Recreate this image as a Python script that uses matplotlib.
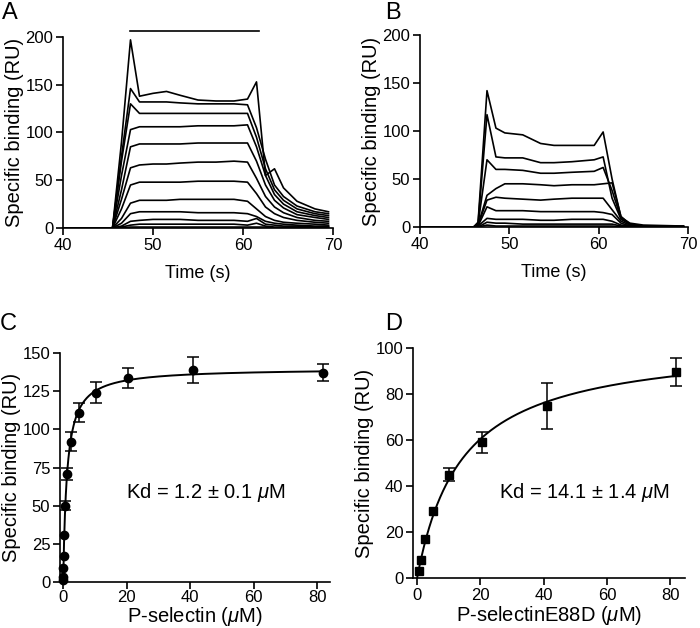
import numpy as np
import matplotlib
matplotlib.use("Agg")
import matplotlib.pyplot as plt

plt.rcParams['font.family'] = ['Liberation Sans', 'DejaVu Sans']
plt.rcParams['mathtext.fontset'] = 'custom'
plt.rcParams['mathtext.rm'] = 'Liberation Sans'
plt.rcParams['mathtext.it'] = 'Liberation Sans:italic'

# ---------------- Panel A: sensorgrams P-selectin ----------------
tA = [40, 45.5, 46.5, 47.5, 48.5, 50, 51.5, 53, 55, 57, 59, 60.5, 61.5, 62.5, 63.5, 64.5, 66, 68, 69.5]
a1 = [0, 0, 90, 197, 138, 141, 143, 139, 134, 133, 133, 135, 153, 55, 62, 42, 28, 20, 17]
a2 = [0, 0, 75, 146, 132, 132, 132, 131, 130, 130, 130, 129, 105, 72, 45, 33, 23, 17, 15]
a3 = [0, 0, 70, 130, 120, 120, 120, 120, 120, 120, 120, 120, 95, 62, 40, 29, 20, 15, 13]
a4 = [0, 0, 55, 103, 106, 106, 106, 106, 107, 107, 107, 108, 85, 55, 35, 25, 17, 13, 11]
a5 = [0, 0, 40, 85, 88, 88, 88, 88, 89, 89, 89, 89, 70, 45, 29, 21, 14, 11, 9]
a6 = [0, 0, 30, 63, 66, 67, 67, 68, 69, 69, 70, 69, 52, 33, 22, 16, 11, 8, 7]
a7 = [0, 0, 20, 45, 48, 48, 48, 48, 49, 49, 49, 48, 36, 22, 15, 11, 8, 6, 5]
a8 = [0, 0, 10, 26, 29, 29, 29, 30, 30, 30, 30, 28, 20, 12, 8, 6, 5, 4, 3]
a9 = [0, 0, 5, 15, 17, 17, 17, 17, 16, 16, 16, 15, 12, 7, 5, 4, 3, 2, 2]
a10 = [0, 0, 2, 7, 8, 9, 9, 9, 8, 8, 8, 7, 10, 4, 3, 2, 2, 1, 1]
a11 = [0, 0, 1, 3, 4, 4, 4, 4, 4, 4, 4, 3, 5, 2, 1, 1, 1, 1, 1]
a12 = [0, 0, 0, 1, 1, 1, 1, 1, 1, 1, 1, 1, 1, 1, 0, 0, 0, 0, 0]
tracesA = [a1, a2, a3, a4, a5, a6, a7, a8, a9, a10, a11, a12]
injection_bar = [47.4, 61.8]
injection_level = 206

# ---------------- Panel B: sensorgrams P-selectinE88D ----------------
tB = [40, 46, 46.5, 47.5, 48.5, 49.5, 51.5, 53.5, 55, 57, 59.5, 60.5, 61.5, 62.5, 63.5, 65, 69.5]
b1 = [0, 0, 5, 142, 103, 98, 96, 87, 85, 85, 85, 99, 50, 10, 4, 2, 1]
b2 = [0, 0, 4, 117, 73, 72, 72, 67, 67, 68, 70, 73, 30, 8, 3, 1, 1]
b3 = [0, 0, 3, 70, 60, 60, 59, 56, 56, 57, 58, 62, 38, 9, 3, 1, 0]
b4 = [0, 0, 2, 33, 40, 45, 45, 44, 43, 44, 44, 45, 46, 11, 3, 1, 0]
b5 = [0, 0, 2, 28, 31, 30, 29, 28, 29, 30, 30, 30, 18, 6, 2, 1, 0]
b6 = [0, 0, 1, 21, 17, 17, 17, 16, 16, 16, 16, 15, 13, 4, 1, 0, 0]
b7 = [0, 0, 1, 9, 8, 8, 8, 7, 7, 8, 8, 8, 6, 2, 1, 0, 0]
b8 = [0, 0, 0, 5, 4, 4, 3, 3, 3, 3, 3, 3, 3, 1, 0, 0, 0]
b9 = [0, 0, 0, 2, 1, 1, 1, 1, 1, 1, 1, 1, 1, 0, 0, 0, 0]
tracesB = [b1, b2, b3, b4, b5, b6, b7, b8, b9]

# ---------------- Panel C: P-selectin equilibrium binding ----------------
concC = [0.01, 0.02, 0.08, 0.16, 0.32, 0.64, 1.28, 2.56, 5.12, 10.24, 20.48, 40.96, 81.92]
bindC = [1, 3, 9, 17, 31, 50, 71, 92, 111, 124, 133.5, 139, 137]
errC = [0, 0, 0, 0, 0, 3, 4, 6, 6, 7, 6.5, 8.5, 5.5]
KdC, BmaxC = 1.2, 140.0

# ---------------- Panel D: P-selectinE88D equilibrium binding ----------------
concD = [0.64, 1.28, 2.56, 5.12, 10.24, 20.48, 40.96, 81.92]
bindD = [3, 8, 17, 29, 45, 59, 75, 89.5]
errD = [0, 0, 0, 0, 3, 4.5, 10, 6]
KdD, BmaxD = 14.1, 103.0

W, H = 700, 628
fig = plt.figure(figsize=(W / 100, H / 100), dpi=100)

def ax_px(l, r, b, t):
    return fig.add_axes([l / W, 1 - b / H, (r - l) / W, (b - t) / H])

def style(ax):
    for s in ['top', 'right']:
        ax.spines[s].set_visible(False)
    for s in ['left', 'bottom']:
        ax.spines[s].set_linewidth(1.2)
    ax.tick_params(direction='out', length=5, width=1.2, labelsize=12, pad=2)

axA = ax_px(63, 333, 228, 37)
axB = ax_px(420, 688, 227, 35)
axC = ax_px(60, 330, 582, 353)
axD = ax_px(413, 685, 578, 348)

for tr in tracesA:
    axA.plot(tA, tr, color='black', lw=1.2)
axA.plot(injection_bar, [injection_level] * 2, color='black', lw=1.2, clip_on=False)
for tr in tracesB:
    axB.plot(tB, tr, color='black', lw=1.2)

for ax in (axA, axB):
    style(ax)
    ax.set_xlim(40, 70)
    ax.set_ylim(0, 200)
    ax.set_xticks([40, 50, 60, 70])
    ax.set_yticks([0, 50, 100, 150, 200])
    ax.set_xlabel('Time (s)', fontsize=13, labelpad=9)
    ax.set_ylabel('Specific binding (RU)', fontsize=14.5, labelpad=1)

# Panel C
xf = np.linspace(0, 82, 600)
axC.plot(xf, BmaxC * xf / (KdC + xf), color='black', lw=1.4, zorder=2)
cC = np.array(concC); bC = np.array(bindC); eC = np.array(errC)
m = eC > 0
axC.errorbar(cC[m], bC[m], yerr=eC[m], fmt='none', ecolor='black', elinewidth=1.1, capsize=4, capthick=1.1, zorder=3)
axC.plot(cC, bC, 'o', color='black', ms=6, zorder=4, clip_on=False)
style(axC)
axC.tick_params(axis='x', pad=1)
axC.set_xlim(-1, 84)
axC.set_ylim(0, 150)
axC.set_xticks([0, 20, 40, 60, 80])
axC.set_yticks([0, 25, 50, 75, 100, 125, 150])
axC.set_xlabel('P-selectin ($\\mu$M)', fontsize=14.5, labelpad=0)
axC.set_ylabel('Specific binding (RU)', fontsize=14.5, labelpad=1)
axC.text(0.54, 0.39, 'Kd = 1.2 ± 0.1 $\\mu$M', transform=axC.transAxes, ha='center', va='center', fontsize=14.5)

# Panel D
axD.plot(xf, BmaxD * xf / (KdD + xf), color='black', lw=1.4, zorder=2)
cD = np.array(concD); bD = np.array(bindD); eD = np.array(errD)
m = eD > 0
axD.errorbar(cD[m], bD[m], yerr=eD[m], fmt='none', ecolor='black', elinewidth=1.1, capsize=4, capthick=1.1, zorder=3)
axD.plot(cD, bD, 's', color='black', ms=6, zorder=4, clip_on=False)
style(axD)
axD.set_xlim(-1.3, 84.7)
axD.set_ylim(0, 100)
axD.set_xticks([0, 20, 40, 60, 80])
axD.set_yticks([0, 20, 40, 60, 80, 100])
axD.set_xlabel('P-selectinE88D ($\\mu$M)', fontsize=14.5, labelpad=1)
axD.set_ylabel('Specific binding (RU)', fontsize=14.5, labelpad=1)
axD.text(0.63, 0.37, 'Kd = 14.1 ± 1.4 $\\mu$M', transform=axD.transAxes, ha='center', va='center', fontsize=14.5)

for lab, x, y in [('A', 2, 2), ('B', 385, 2), ('C', 0, 313), ('D', 385, 313)]:
    fig.text(x / W, 1 - y / H, lab, ha='left', va='top', fontsize=17)

fig.savefig('out.png', dpi=100)
